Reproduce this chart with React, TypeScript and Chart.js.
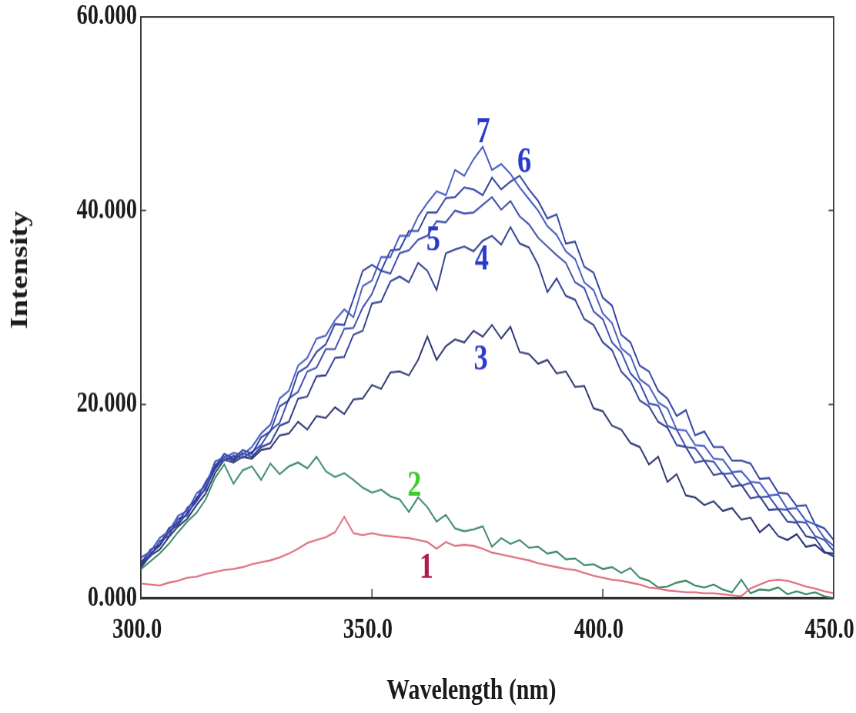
import React, { useEffect, useRef } from 'react';
import { Chart, registerables } from 'chart.js';

Chart.register(...registerables);

// Emission spectra (intensity in thousands of counts) sampled every 2 nm.
const WAVELENGTHS = [
  300, 302, 304, 306, 308, 310, 312, 314, 316, 318,
  320, 322, 324, 326, 328, 330, 332, 334, 336, 338,
  340, 342, 344, 346, 348, 350, 352, 354, 356, 358,
  360, 362, 364, 366, 368, 370, 372, 374, 376, 378,
  380, 382, 384, 386, 388, 390, 392, 394, 396, 398,
  400, 402, 404, 406, 408, 410, 412, 414, 416, 418,
  420, 422, 424, 426, 428, 430, 432, 434, 436, 438,
  440, 442, 444, 446, 448, 450,
];

const SPECTRUM_1 = [
  1.5, 1.4, 1.3, 1.6, 1.8, 2.1, 2.2, 2.5, 2.7, 2.9,
  3.0, 3.2, 3.5, 3.7, 3.9, 4.2, 4.6, 5.1, 5.7, 6.0,
  6.3, 6.8, 8.4, 6.7, 6.5, 6.7, 6.5, 6.4, 6.3, 6.2,
  6.0, 5.8, 5.1, 5.8, 5.4, 5.5, 5.4, 5.1, 4.7, 4.5,
  4.3, 4.1, 3.9, 3.6, 3.4, 3.2, 3.0, 2.9, 2.6, 2.3,
  2.1, 1.9, 1.8, 1.6, 1.4, 1.1, 1.0, 0.8, 0.7, 0.6,
  0.6, 0.5, 0.5, 0.4, 0.3, 0.2, 1.0, 1.4, 1.8, 1.9,
  1.8, 1.5, 1.2, 1.0, 0.7, 0.5,
];

const SPECTRUM_2 = [
  3.0, 3.8, 4.6, 5.6, 6.8, 7.9, 8.8, 10.2, 12.4, 13.8,
  11.8, 13.2, 13.6, 12.2, 13.9, 12.8, 13.6, 14.0, 13.4, 14.6,
  13.1, 12.5, 12.9, 12.2, 11.4, 10.9, 11.2, 10.5, 10.2, 8.9,
  10.4, 9.4, 7.9, 8.6, 7.2, 6.9, 7.1, 7.4, 5.3, 6.2,
  5.6, 6.0, 5.2, 5.3, 4.6, 4.8, 4.0, 4.1, 3.4, 3.5,
  3.0, 3.2, 2.6, 3.1, 2.1, 1.8, 1.1, 1.2, 1.6, 1.8,
  1.3, 1.1, 1.4, 0.9, 0.6, 1.9, 0.5, 0.9, 0.8, 1.1,
  0.4, 0.7, 0.4, 0.6, 0.2, 0.0,
];

const SPECTRUM_3 = [
  3.2, 4.4, 5.0, 6.3, 7.4, 8.2, 9.6, 10.8, 12.9, 14.3,
  14.0, 14.6, 14.4, 15.3, 15.5, 16.8, 17.0, 18.2, 17.4, 18.8,
  18.6, 19.7, 19.0, 20.5, 20.6, 22.0, 21.6, 23.3, 23.4, 23.0,
  24.6, 27.0, 24.6, 26.0, 26.7, 26.4, 27.6, 27.0, 28.2, 26.8,
  28.0, 25.4, 25.2, 24.2, 24.6, 23.2, 23.4, 21.8, 21.9, 19.6,
  19.3, 17.8, 17.4, 16.0, 15.6, 13.8, 14.6, 12.0, 12.8, 10.6,
  10.4, 9.6, 10.0, 9.0, 9.3, 8.1, 8.3, 6.8, 7.6, 6.4,
  6.0, 6.6, 5.3, 5.5, 4.7, 4.6,
];

const SPECTRUM_4 = [
  3.4, 4.6, 5.4, 6.8, 7.6, 8.8, 10.0, 11.4, 13.3, 14.6,
  14.2, 15.0, 14.6, 15.6, 16.0, 17.8, 18.2, 20.6, 20.8, 22.9,
  23.0, 24.8, 24.9, 27.2, 27.6, 30.4, 30.6, 32.7, 33.2, 32.6,
  34.6, 33.8, 31.8, 35.6, 36.0, 36.3, 35.8, 36.9, 37.4, 36.5,
  38.3, 36.6, 36.2, 34.4, 31.6, 33.0, 31.2, 30.8, 28.8, 28.2,
  26.4, 25.6, 23.4, 22.4, 20.4, 19.8, 18.2, 17.6, 15.8, 15.6,
  14.0, 14.2, 12.7, 12.9, 11.5, 11.7, 10.3, 10.5, 9.1, 9.2,
  7.9, 7.8, 6.4, 6.2, 4.8, 4.3,
];

const SPECTRUM_5 = [
  3.8, 4.3, 5.9, 6.4, 8.2, 8.5, 10.4, 11.2, 13.8, 14.2,
  14.7, 14.5, 15.1, 15.8, 17.3, 18.1, 20.6, 21.3, 23.4, 23.8,
  25.7, 25.7, 27.8, 27.9, 30.0, 31.4, 33.8, 33.5, 35.6, 35.9,
  37.0, 37.4, 38.9, 38.8, 40.0, 39.7, 39.8, 40.6, 41.4, 40.1,
  41.0, 39.4, 38.6, 37.2, 36.3, 35.4, 34.6, 32.6, 32.0, 29.6,
  28.8, 26.4, 25.4, 23.2, 22.2, 20.1, 19.9, 17.8, 17.4, 15.6,
  15.5, 14.2, 14.1, 12.8, 12.9, 11.6, 11.9, 10.4, 10.5, 9.2,
  9.1, 7.9, 7.8, 6.4, 6.0, 4.9,
];

const SPECTRUM_6 = [
  3.6, 5.0, 5.5, 7.2, 7.8, 9.3, 10.2, 12.0, 13.5, 14.9,
  14.4, 15.3, 14.9, 16.6, 17.2, 19.8, 20.4, 23.3, 23.9, 25.4,
  26.2, 28.3, 28.2, 30.9, 33.8, 34.4, 33.8, 35.9, 36.0, 37.9,
  37.9, 39.8, 39.8, 41.3, 41.4, 42.4, 42.2, 41.6, 43.4, 42.2,
  43.0, 43.6, 42.2, 41.0, 39.2, 39.6, 36.6, 36.8, 34.2, 33.6,
  31.0, 30.2, 27.2, 26.4, 24.0, 23.4, 21.4, 20.6, 18.8, 19.4,
  16.8, 17.2, 15.6, 15.6, 14.2, 14.2, 13.9, 12.3, 12.4, 10.9,
  10.8, 9.5, 9.6, 7.6, 7.2, 6.0,
];

const SPECTRUM_7 = [
  4.2, 4.8, 6.2, 6.9, 8.5, 9.0, 10.8, 11.6, 14.1, 14.5,
  15.0, 14.8, 15.6, 17.0, 17.9, 20.6, 21.4, 24.0, 24.8, 26.8,
  27.1, 28.7, 29.8, 29.0, 32.2, 32.8, 35.2, 35.2, 37.4, 37.4,
  39.4, 40.8, 42.0, 41.6, 44.2, 43.6, 45.3, 46.6, 44.2, 44.8,
  43.8, 42.4, 41.2, 40.0, 38.4, 37.5, 35.8, 35.0, 32.6, 31.8,
  29.4, 28.4, 25.8, 25.0, 22.6, 21.9, 20.2, 19.6, 17.4, 17.3,
  15.8, 15.7, 14.4, 14.3, 13.0, 13.1, 12.0, 11.9, 10.6, 10.7,
  9.2, 9.3, 8.0, 7.6, 6.2, 5.4,
];

const SPECTRA = [SPECTRUM_1, SPECTRUM_2, SPECTRUM_3, SPECTRUM_4, SPECTRUM_5, SPECTRUM_6, SPECTRUM_7];
const LINE_COLORS = ['#df6f80', '#3a8a68', '#27306e', '#2a3a8c', '#3848a8', '#2d3f9e', '#4258c2'];

// Curve numbers written next to the spectra, anchored in data units.
const CURVE_TAGS = ['1', '2', '3', '4', '5', '6', '7'];
const TAG_WAVELENGTH = [361.8, 359.2, 373.6, 373.8, 363.3, 383.0, 374.1];
const TAG_INTENSITY = [3.1, 11.5, 24.6, 34.9, 36.9, 44.9, 48.0];
const TAG_COLORS = ['#b21a4e', '#3dcc2c', '#2a3acb', '#2a3acb', '#2a3acb', '#2a3acb', '#2a3acb'];

const X_MIN = 300;
const X_MAX = 450;
const X_STEP = 50;
const Y_MIN = 0;
const Y_MAX = 60;
const Y_STEP = 20;

const X_TITLE = 'Wavelength (nm)';
const Y_TITLE = 'Intensity';

// The figure is drawn 1.3x taller than its logical height.
const Y_STRETCH = 1.3;
const SERIF = '"Liberation Serif", "Times New Roman", serif';
const INK = '#1b1b1b';
const FRAME = '#3a3a3a';

const framePlugin = {
  id: 'frame',
  afterDraw(chart: any) {
    const { ctx, chartArea: a, scales } = chart;
    const x = scales.x;
    const y = scales.y;
    ctx.save();
    ctx.strokeStyle = FRAME;
    ctx.lineWidth = 1.4;
    ctx.beginPath();
    ctx.moveTo(a.left, a.top);
    ctx.lineTo(a.right, a.top);
    ctx.lineTo(a.right, a.bottom);
    ctx.stroke();

    ctx.lineWidth = 1.1;
    ctx.beginPath();
    for (const t of y.ticks) {
      if (t.value <= y.min || t.value >= y.max) continue;
      const py = y.getPixelForValue(t.value);
      ctx.moveTo(a.left, py);
      ctx.lineTo(a.left + 5, py);
      ctx.moveTo(a.right, py);
      ctx.lineTo(a.right - 5, py);
    }
    for (const t of x.ticks) {
      if (t.value <= x.min || t.value >= x.max) continue;
      const px = x.getPixelForValue(t.value);
      ctx.moveTo(px, a.bottom);
      ctx.lineTo(px, a.bottom - 7);
    }
    ctx.stroke();
    ctx.restore();
  },
};

const tagPlugin = {
  id: 'curveTags',
  afterDatasetsDraw(chart: any) {
    const { ctx, scales } = chart;
    ctx.save();
    ctx.font = `bold 28px ${SERIF}`;
    ctx.textAlign = 'center';
    ctx.textBaseline = 'middle';
    CURVE_TAGS.forEach((tag, i) => {
      ctx.fillStyle = TAG_COLORS[i];
      ctx.fillText(
        tag,
        scales.x.getPixelForValue(TAG_WAVELENGTH[i]),
        scales.y.getPixelForValue(TAG_INTENSITY[i]),
      );
    });
    ctx.restore();
  },
};

const captionPlugin = {
  id: 'captions',
  afterDraw(chart: any) {
    const { ctx } = chart;
    ctx.save();
    ctx.fillStyle = INK;
    ctx.textAlign = 'center';
    ctx.textBaseline = 'middle';
    ctx.font = `bold 23px ${SERIF}`;
    ctx.fillText(X_TITLE, 471, 530.8);
    ctx.translate(21, 207.4);
    ctx.rotate(-Math.PI / 2);
    ctx.font = `bold 24px ${SERIF}`;
    ctx.fillText(Y_TITLE, 0, 0);
    ctx.restore();
  },
};

export default function App() {
  const canvasRef = useRef<HTMLCanvasElement>(null);

  useEffect(() => {
    const canvas = canvasRef.current;
    if (!canvas) return;

    const tickFont = { family: SERIF, size: 22, weight: 'bold' as const };

    const chart = new Chart(canvas, {
      type: 'line',
      data: {
        datasets: SPECTRA.map((values, i) => ({
          label: CURVE_TAGS[i],
          data: WAVELENGTHS.map((w, j) => ({ x: w, y: values[j] })),
          borderColor: LINE_COLORS[i],
          borderWidth: 1.4,
          pointRadius: 0,
          tension: 0,
          fill: false,
          order: i < 2 ? 10 : 7 - i,
        })),
      },
      options: {
        responsive: false,
        animation: false,
        devicePixelRatio: Y_STRETCH,
        events: [],
        layout: { padding: { top: 13, right: 23, bottom: 0, left: 0 } },
        plugins: {
          legend: { display: false },
          tooltip: { enabled: false },
          title: { display: false },
        },
        scales: {
          x: {
            type: 'linear',
            min: X_MIN,
            max: X_MAX,
            grid: { display: false, drawTicks: false },
            border: { display: true, color: '#2a2a2a', width: 2 },
            ticks: {
              stepSize: X_STEP,
              autoSkip: false,
              maxRotation: 0,
              padding: 11.4,
              labelOffset: -4,
              color: INK,
              font: tickFont,
              callback: (v: any) => Number(v).toFixed(1),
            },
            afterFit: (s: any) => {
              s.height = 88.6;
              s.paddingLeft = 0;
              s.paddingRight = 0;
            },
          },
          y: {
            type: 'linear',
            min: Y_MIN,
            max: Y_MAX,
            grid: { display: false, drawTicks: false },
            border: { display: true, color: FRAME, width: 1.5 },
            ticks: {
              stepSize: Y_STEP,
              padding: 4,
              color: INK,
              font: tickFont,
              callback: (v: any) => Number(v).toFixed(3),
            },
            afterFit: (s: any) => {
              s.width = 141;
              s.paddingTop = 0;
              s.paddingBottom = 0;
            },
          },
        },
      },
      plugins: [framePlugin, tagPlugin, captionPlugin],
    });

    return () => chart.destroy();
  }, []);

  return (
    <div style={{ position: 'absolute', left: 0, top: 0, width: 856, height: 713, background: '#ffffff' }}>
      <canvas
        ref={canvasRef}
        width={856}
        height={548}
        style={{ display: 'block', width: '856px', height: '713px' }}
      />
    </div>
  );
}
